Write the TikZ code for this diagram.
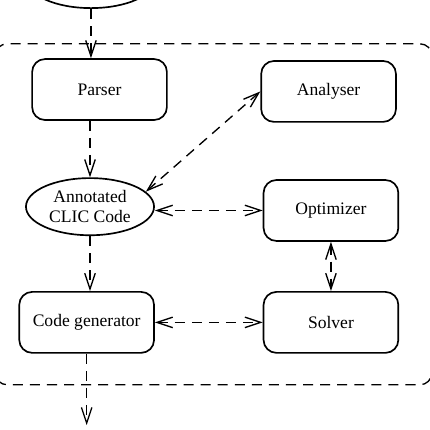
\documentclass[tikz,border=0pt]{standalone}
\usepackage{fontspec}
\setmainfont{Liberation Serif}
\usetikzlibrary{shapes.geometric,arrows.meta}

\begin{document}
\begin{tikzpicture}[
  font=\fontsize{10.5}{12}\selectfont,
  module/.style={draw,line width=1pt,rounded corners=0.27cm,minimum width=2.83cm,minimum height=1.28cm},
  data/.style={draw,line width=1pt,ellipse,minimum width=2.69cm,minimum height=1.2cm,inner sep=0pt,align=center},
  dashline/.style={line width=0.8pt,dash pattern=on 6pt off 4.2pt},
  flow/.style={dashline,-{Straight Barb[length=0.33cm,width=0.22cm]}},
  both/.style={dashline,{Straight Barb[length=0.33cm,width=0.22cm]}-{Straight Barb[length=0.33cm,width=0.22cm]}}]

\useasboundingbox (0,0) rectangle (9.01,-9.03);

% enclosing system
\draw[dashline,rounded corners=0.25cm] (-0.1,-0.92) rectangle (9.07,-8.08);

\node[data] (input) at (1.91,0.43) {};

\node[module] (parser) at (2.09,-1.88) {Parser};
\node[module] (analyser) at (6.90,-1.92) {Analyser};
\node[data] (ann) at (1.89,-4.34) {Annotated\\CLIC Code};
\node[module] (opt) at (6.95,-4.42) {Optimizer};
\node[module] (codegen) at (1.82,-6.77) {Code generator};
\node[module] (solver) at (6.95,-6.77) {Solver};
\coordinate (out) at (1.82,-8.93);

\draw[flow] (input.south) -- (input.south |- parser.north);
\draw[flow] (parser.south -| ann.north) -- (ann.north);
\draw[both] (ann.15) -- (analyser.west);
\draw[both] (ann.east |- opt.west) -- (opt.west);
\draw[both] (opt.south) -- (solver.north);
\draw[flow] (ann.south) -- (ann.south |- codegen.north);
\draw[both] (codegen.east) -- (solver.west);
\draw[flow] (codegen.south) -- (out);

\end{tikzpicture}
\end{document}
